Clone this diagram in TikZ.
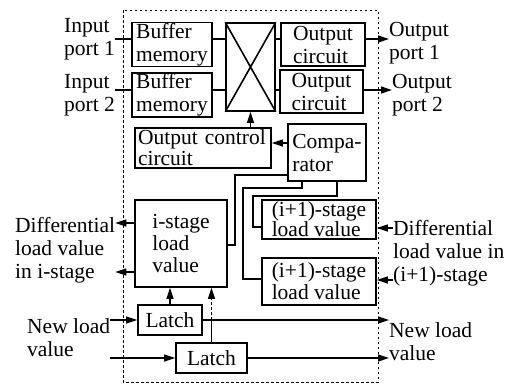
\documentclass[tikz,border=0pt]{standalone}
\usepackage{fontspec}
\setmainfont{Liberation Serif}
\usetikzlibrary{arrows.meta}
\tikzset{
  bx/.style={rectangle,draw,line width=1.6pt,align=left,inner xsep=3pt,inner ysep=0.5pt,font=\fontsize{21.5}{23}\selectfont},
  lbl/.style={anchor=north west,align=left,inner sep=0pt,font=\fontsize{21.5}{23}\selectfont},
  wire/.style={draw,line width=1.3pt},
  arr/.style={wire,-{Triangle[length=11pt,width=7pt]}},
  frame/.style={draw,line width=1pt,dash pattern=on 2.5pt off 2.5pt},
}

\begin{document}
\begin{tikzpicture}[x=1pt,y=-1pt]
\useasboundingbox (0,0) rectangle (512,384);
\draw[frame] (123,10) rectangle (378,382);
% -switch-
\node[bx,minimum width=80pt,minimum height=43pt] (buf1) at (172,44.5) {Buffer\\memory};
\node[bx,minimum width=80pt,minimum height=44pt] (buf2) at (172,95) {Buffer\\memory};
\node[bx,minimum width=49pt,minimum height=88pt] (xbar) at (250.5,67) {};
\draw[line width=1.6pt] (xbar.north west) -- (xbar.south east) (xbar.north east) -- (xbar.south west);
\node[bx,minimum width=84pt,minimum height=43pt] (oc1) at (323,44.5) {Output\\circuit};
\node[bx,minimum width=83pt,minimum height=43pt] (oc2) at (321.5,91.5) {Output\\circuit};
\coordinate (r1) at (0,39);
\coordinate (r2) at (0,90);
\node[lbl] (in1) at (64,18) {Input\\port 1};
\node[lbl] (in2) at (64,74) {Input\\port 2};
\node[lbl] (out1) at (389,22) {Output\\port 1};
\node[lbl] (out2) at (392,74) {Output\\port 2};
\draw[wire] (in1.east |- r1) -- (buf1.west |- r1);
\draw[wire] (in2.east |- r2) -- (buf2.west |- r2);
\draw[wire] (buf1.east |- r1) -- (xbar.west |- r1);
\draw[wire] (buf2.east |- r2) -- (xbar.west |- r2);
\draw[wire] (xbar.east |- r1) -- (oc1.west |- r1);
\draw[wire] (xbar.east |- r2) -- (oc2.west |- r2);
\draw[arr] (oc1.east |- r1) -- (out1.west |- r1);
\draw[arr] (oc2.east |- r2) -- (out2.west |- r2);
% -control-
\node[bx,text width=130pt,minimum height=40pt,font=\fontsize{21.5}{21}\selectfont] (occ) at (203,148) {Output control\\circuit};
\node[bx,minimum width=78pt,minimum height=57pt] (cmp) at (327,152.5) {Compa-\\rator};
\coordinate (hc) at (0,143);
\draw[arr] (occ.north -| xbar.south) -- (xbar.south);
\draw[arr] (cmp.west |- hc) -- (occ.east |- hc);
% -load values-
\node[bx,minimum width=92pt,minimum height=87pt,font=\fontsize{21.5}{22}\selectfont] (istg) at (181,243.5) {i-stage\\load\\value};
\node[bx,minimum width=114pt,minimum height=39pt,font=\fontsize{21.5}{20}\selectfont] (ip1) at (319,219.5) {(i+1)-stage\\load value};
\node[bx,minimum width=114pt,minimum height=47pt,font=\fontsize{21.5}{22}\selectfont] (ip2) at (319,281.5) {(i+1)-stage\\load value};
\draw[wire] (cmp.west |- 0,175) -| (235,245) -- (istg.east |- 0,245);
\draw[wire] ([xshift=-25pt]cmp.south) |- (243,188) |- (ip2.west |- 0,279);
\draw[wire] ([xshift=10pt]cmp.south) |- (253,196) |- (ip1.west |- 0,227);
\node[lbl] (dl) at (15,217) {Differential\\load value\\in i-stage};
\node[lbl] (dr) at (393,220) {Differential\\load value in\\(i+1)-stage};
\draw[arr] (istg.west |- 0,223) -- (dl.east |- 0,223);
\draw[arr] (istg.west |- 0,272) -- (dl.east |- 0,272);
\draw[arr] (dr.west |- 0,228) -- (ip1.east |- 0,228);
\draw[arr] (dr.west |- 0,280) -- (ip2.east |- 0,280);
% -latches-
\node[bx,minimum width=64pt,minimum height=30pt] (lat1) at (170,320) {Latch};
\node[bx,minimum width=71pt,minimum height=30pt] (lat2) at (211.5,358) {Latch};
\node[lbl] (nl) at (27,318) {New load\\value};
\node[lbl] (nr) at (389,322) {New load\\value};
\draw[arr] (lat1.north) -- (lat1.north |- istg.south);
\draw[wire] (lat2.north) -- (lat2.north |- lat1.east);
\draw[arr,dash pattern=on 3pt off 2pt] (lat2.north |- lat1.east) -- (lat2.north |- istg.south);
\draw[arr] (nl.east |- lat1.west) -- (lat1.west);
\draw[arr] (nl.east |- lat2.west) -- (lat2.west);
\draw[arr] (lat1.east) -- (nr.west |- lat1.east);
\draw[arr] (lat2.east) -- (nr.west |- lat2.east);
\end{tikzpicture}
\end{document}
